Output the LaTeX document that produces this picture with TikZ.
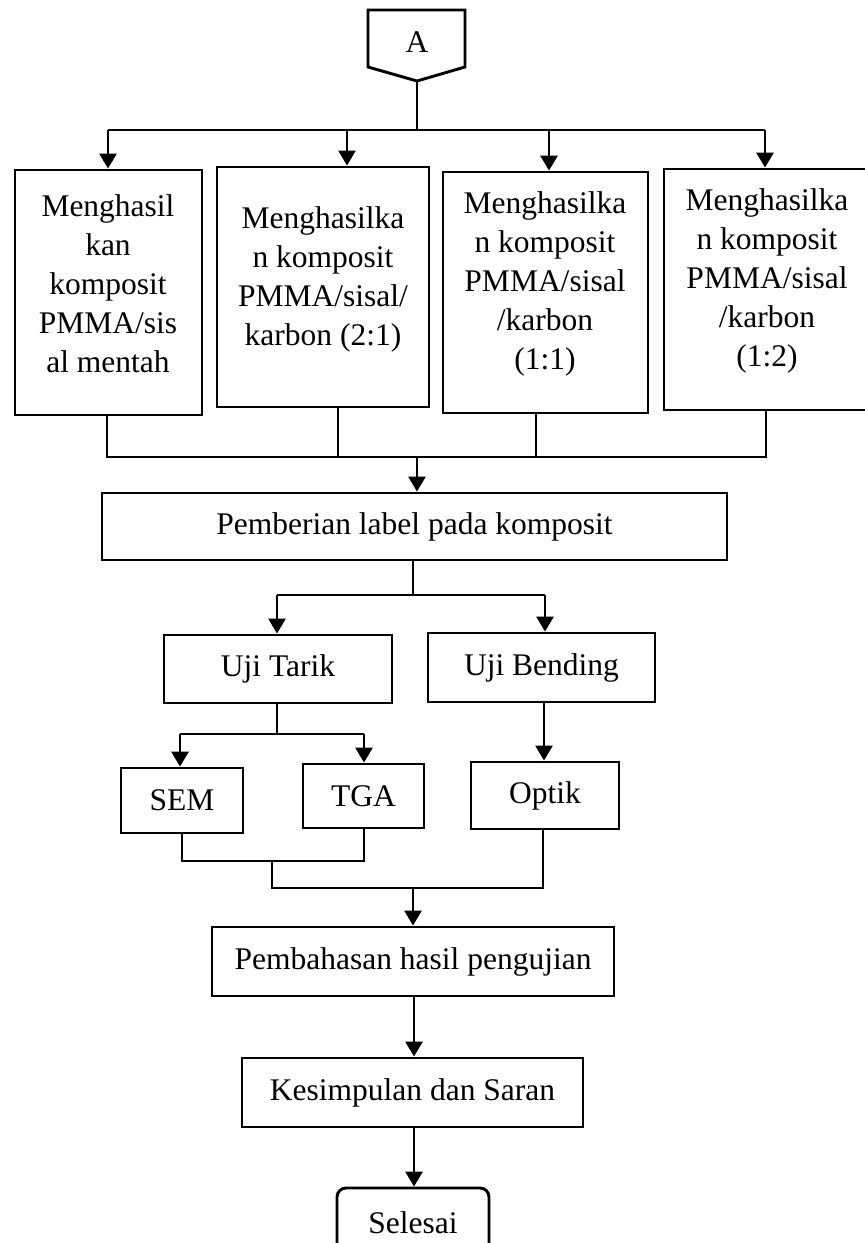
\documentclass[tikz,border=0pt]{standalone}
\usepackage{fontspec}
\setmainfont{Liberation Serif}
\usetikzlibrary{arrows.meta}
\begin{document}
\begin{tikzpicture}[x=1pt,y=-1pt,
  every node/.style={font=\fontsize{31.5}{39}\selectfont},
  box/.style={draw, line width=2.9pt, inner sep=0pt, rectangle},
  lbl/.style={align=center, inner sep=0pt},
  ln/.style={line width=2.9pt},
  arr/.style={line width=2.9pt, -{Triangle[length=15pt,width=17pt]}}]
\useasboundingbox (0,0) rectangle (865,1243);
\clip (0,0) rectangle (865,1243);
% connector A
\draw[line width=2.9pt, line join=miter] (368,10) -- (465,10) -- (465,67) -- (417,81) -- (368,67) -- cycle;
\node (A) at (417,42) {A};
\coordinate (Atip) at (417,81);
% four result boxes
\node[box, minimum width=187pt, minimum height=245pt] (b1) at (108.5,292.5) {};
\node[box, minimum width=212pt, minimum height=240pt] (b2) at (323,287) {};
\node[box, minimum width=205pt, minimum height=241pt] (b3) at (545.5,292.5) {};
\node[box, minimum width=206pt, minimum height=241pt] (b4) at (767,289.5) {};
\node[lbl] (b1t) at (108,284) {Menghasil\\kan\\komposit\\PMMA/sis\\al mentah};
\node[lbl] (b2t) at (323,279) {Menghasilka\\n komposit\\PMMA/sisal/\\karbon (2:1)};
\node[lbl] (b3t) at (545,284) {Menghasilka\\n komposit\\PMMA/sisal\\/karbon\\(1:1)};
\node[lbl] (b4t) at (767,281) {Menghasilka\\n komposit\\PMMA/sisal\\/karbon\\(1:2)};
% top bus
\coordinate (t1) at (108,130);
\coordinate (t2) at (347,130);
\coordinate (t3) at (549,130);
\coordinate (t4) at (765,130);
\draw[ln] (Atip) -- (Atip |- t1);
\draw[ln] (t1) -- (t4);
\draw[arr] (t1) -- (t1 |- b1.north);
\draw[arr] (t2) -- (t2 |- b2.north);
\draw[arr] (t3) -- (t3 |- b3.north);
\draw[arr] (t4) -- (t4 |- b4.north);
% bottom collector
\coordinate (c1) at (107,457);
\coordinate (c2) at (338,457);
\coordinate (c3) at (536,457);
\coordinate (c4) at (766,457);
\coordinate (cm) at (417,457);
\draw[ln] (c1 |- b1.south) -- (c1) -- (c4) -- (c4 |- b4.south);
\draw[ln] (c2 |- b2.south) -- (c2);
\draw[ln] (c3 |- b3.south) -- (c3);
\node[box, minimum width=625pt, minimum height=67pt] (pem) at (414.5,526.5) {Pemberian label pada komposit};
\draw[arr] (cm) -- (cm |- pem.north);
% tests
\node[box, minimum width=228pt, minimum height=68pt] (tarik) at (278,669) {Uji Tarik};
\node[box, minimum width=227pt, minimum height=69pt] (bend) at (541.5,667.5) {Uji Bending};
\coordinate (p0) at (413,595);
\coordinate (p1) at (277,595);
\coordinate (p2) at (545,595);
\draw[ln] (p0 |- pem.south) -- (p0);
\draw[ln] (p1) -- (p2);
\draw[arr] (p1) -- (p1 |- tarik.north);
\draw[arr] (p2) -- (p2 |- bend.north);
% SEM TGA Optik
\node[box, minimum width=122pt, minimum height=65pt] (sem) at (182,800.5) {SEM};
\node[box, minimum width=121pt, minimum height=64pt] (tga) at (363.5,796) {TGA};
\node[box, minimum width=148pt, minimum height=67pt] (opt) at (545,795.5) {Optik};
\coordinate (q0) at (277,734);
\coordinate (q1) at (180,734);
\coordinate (q2) at (364,734);
\draw[ln] (q0 |- tarik.south) -- (q0);
\draw[ln] (q1) -- (q2);
\draw[arr] (q1) -- (q1 |- sem.north);
\draw[arr] (q2) -- (q2 |- tga.north);
\coordinate (o1) at (544,734);
\draw[arr] (o1 |- bend.south) -- (o1 |- opt.north);
% collector 2
\coordinate (r1) at (182,861);
\coordinate (r2) at (364,861);
\coordinate (r0) at (272,861);
\draw[ln] (r1 |- sem.south) -- (r1) -- (r2) -- (r2 |- tga.south);
\coordinate (s1) at (272,888);
\coordinate (s2) at (543,888);
\coordinate (s0) at (413,888);
\draw[ln] (r0) -- (s1) -- (s2) -- (s2 |- opt.south);
% final steps
\node[box, minimum width=402pt, minimum height=69pt] (bahas) at (413,961.5) {Pembahasan hasil pengujian};
\node[box, minimum width=341pt, minimum height=69pt] (simp) at (412.5,1092.5) {Kesimpulan dan Saran};
\node[box, rounded corners=9pt, minimum width=152pt, minimum height=70pt] (end) at (413,1223) {Selesai};
\draw[arr] (s0) -- (s0 |- bahas.north);
\coordinate (u0) at (414,1000);
\draw[arr] (u0 |- bahas.south) -- (u0 |- simp.north);
\draw[arr] (u0 |- simp.south) -- (u0 |- end.north);
\end{tikzpicture}
\end{document}
